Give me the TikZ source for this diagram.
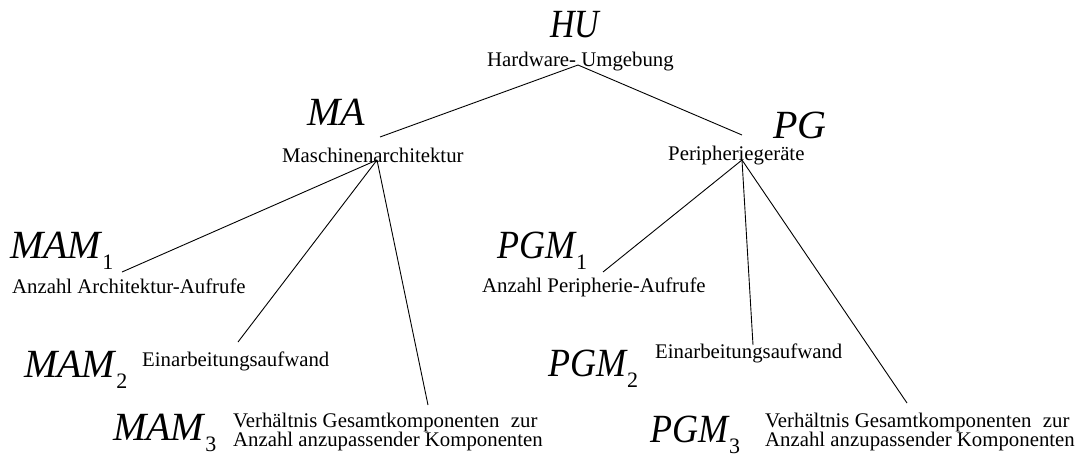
\documentclass[tikz,border=0pt]{standalone}
\usepackage{fontspec}
\setmainfont{Liberation Serif}
% symbol with a lowered upright index
\newcommand{\symsub}[2]{#1\kern1pt\raisebox{-11pt}{\fontsize{22}{22}\selectfont\upshape #2}}
% slightly condensed letters
\newcommand{\narrow}[2]{\scalebox{#1}[1]{#2}}
\begin{document}
\begin{tikzpicture}[x=1pt,y=-1pt,
  lbl/.style={anchor=base west, inner sep=0pt, font=\fontsize{20.8}{18.5}\selectfont},
  sym/.style={anchor=base west, inner sep=0pt, font=\fontsize{40}{40}\selectfont\itshape},
  link/.style={line width=0.9pt}]
\useasboundingbox (0,0) rectangle (1086,458);

% root
\node[sym] (hu) at (550,37) {\narrow{0.85}{HU}};
\node[lbl] (hut) at (487,66) {Hardware- Umgebung};
\coordinate (huj) at (578,65);

% machine architecture branch
\node[sym] (ma) at (307,125) {MA};
\node[lbl] (mat) at (282,162) {Maschinenarchitektur};
\coordinate (mae) at (380,137);
\coordinate (maj) at (377,160);

\node[sym] (mam1) at (10,258) {\symsub{MAM}{1}};
\node[lbl] (mam1t) at (12,293) {Anzahl Architektur-Aufrufe};
\coordinate (mam1e) at (122,272);

\node[sym] (mam2) at (24,377) {\symsub{MAM}{2}};
\node[lbl] (mam2t) at (142,366) {Einarbeitungsaufwand};
\coordinate (mam2e) at (238,342);

\node[sym] (mam3) at (113,440) {\symsub{MAM}{3}};
\node[lbl] (mam3a) at (233,427) {Verh\"altnis Gesamtkomponenten\hspace{0.3em} zur};
\node[lbl] (mam3b) at (233,446) {Anzahl anzupassender Komponenten};
\coordinate (mam3e) at (428,405);

% peripheral devices branch
\node[sym] (pg) at (773,138) {PG};
\node[lbl] (pgt) at (668,160) {Peripherieger\"ate};
\coordinate (pge) at (742,135);
\coordinate (pgj) at (742,160);

\node[sym] (pgm1) at (497,258) {\symsub{\narrow{0.9}{PGM}}{1}};
\node[lbl] (pgm1t) at (482,292) {Anzahl Peripherie-Aufrufe};
\coordinate (pgm1e) at (603,272);

\node[sym] (pgm2) at (548,376) {\symsub{\narrow{0.9}{PGM}}{2}};
\node[lbl] (pgm2t) at (655,358) {Einarbeitungsaufwand};
\coordinate (pgm2e) at (753,345);

\node[sym] (pgm3) at (650,442) {\symsub{\narrow{0.9}{PGM}}{3}};
\node[lbl] (pgm3a) at (765,427) {Verh\"altnis Gesamtkomponenten\hspace{0.3em} zur};
\node[lbl] (pgm3b) at (765,446) {Anzahl anzupassender Komponenten};
\coordinate (pgm3e) at (907,403);

% connectors
\draw[link] (huj) -- (mae);
\draw[link] (huj) -- (pge);
\draw[link] (maj) -- (mam1e);
\draw[link] (maj) -- (mam2e);
\draw[link] (maj) -- (mam3e);
\draw[link] (pgj) -- (pgm1e);
\draw[link] (pgj) -- (pgm2e);
\draw[link] (pgj) -- (pgm3e);
\end{tikzpicture}
\end{document}
